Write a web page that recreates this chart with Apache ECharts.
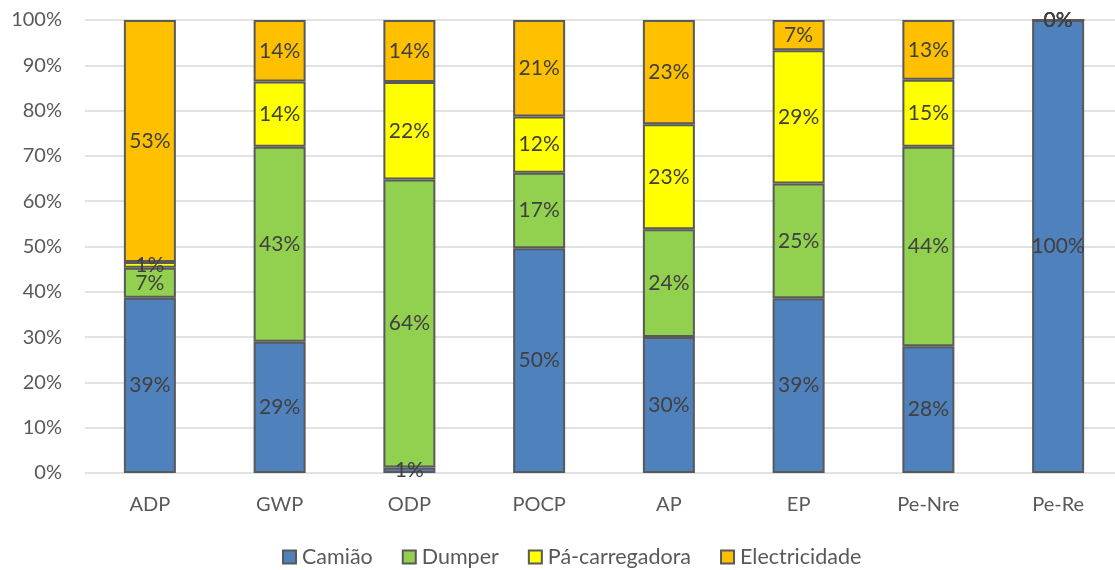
<!DOCTYPE html>
<html>
<head>
<meta charset="utf-8">
<script src="https://cdn.jsdelivr.net/npm/echarts@6/dist/echarts.min.js"></script>
<style>
  html, body { margin: 0; padding: 0; background: #ffffff; overflow: hidden; }
  #chart { width: 1130px; height: 570px; }
</style>
</head>
<body>
<div id="chart"></div>
<script>
// Impact categories on the x axis
const categories = ['ADP', 'GWP', 'ODP', 'POCP', 'AP', 'EP', 'Pe-Nre', 'Pe-Re'];

// Share of each source per category (%)
const camiao        = [38.7, 29.0,  1.2, 49.6, 30.0, 38.6, 28.0, 100];
const dumper        = [ 6.6, 43.0, 63.6, 16.7, 23.8, 25.3, 44.0,   0];
const paCarregadora = [ 1.3, 14.4, 21.5, 12.4, 23.2, 29.4, 14.8,   0];
const electricidade = [53.4, 13.6, 13.7, 21.3, 23.0,  6.7, 13.2,   0];

// y axis tick values (%)
const yTicks = [0, 10, 20, 30, 40, 50, 60, 70, 80, 90, 100];

const FONT = 'Lato';

function makeSeries(name, data, color) {
  return {
    name: name,
    type: 'bar',
    stack: 'total',
    data: data,
    barWidth: 52,
    itemStyle: { color: color, borderColor: '#595959', borderWidth: 2 },
    label: {
      show: true,
      position: 'inside',
      color: '#404040',
      fontFamily: FONT,
      fontSize: 21,
      formatter: p => Math.round(p.value) + '%'
    },
    emphasis: { disabled: true }
  };
}

const chart = echarts.init(document.getElementById('chart'));
chart.setOption({
  animation: false,
  backgroundColor: '#ffffff',
  grid: { left: 85, top: 20, width: 1038, height: 453, containLabel: false },
  xAxis: {
    type: 'category',
    data: categories,
    axisLine: { show: false },
    axisTick: { show: false },
    axisLabel: { color: '#595959', fontFamily: FONT, fontSize: 20, margin: 22 }
  },
  yAxis: {
    type: 'value',
    min: yTicks[0],
    max: yTicks[yTicks.length - 1],
    interval: yTicks[1] - yTicks[0],
    axisLine: { show: false },
    axisTick: { show: false },
    splitLine: { lineStyle: { color: '#d9d9d9', width: 1.5 } },
    axisLabel: { color: '#595959', fontFamily: FONT, fontSize: 20, margin: 23, formatter: '{value}%' }
  },
  legend: {
    top: 546,
    left: 282,
    padding: 0,
    icon: 'rect',
    itemWidth: 13,
    itemHeight: 13,
    itemGap: 29,
    textStyle: { color: '#595959', fontFamily: FONT, fontSize: 21.5, padding: [0, 0, 0, 1] },
    data: ['Camião', 'Dumper', 'Pá-carregadora', 'Electricidade']
  },
  series: [
    makeSeries('Camião', camiao, '#4F81BD'),
    makeSeries('Dumper', dumper, '#92D050'),
    makeSeries('Pá-carregadora', paCarregadora, '#FFFF00'),
    makeSeries('Electricidade', electricidade, '#FFC000')
  ]
});
</script>
</body>
</html>
